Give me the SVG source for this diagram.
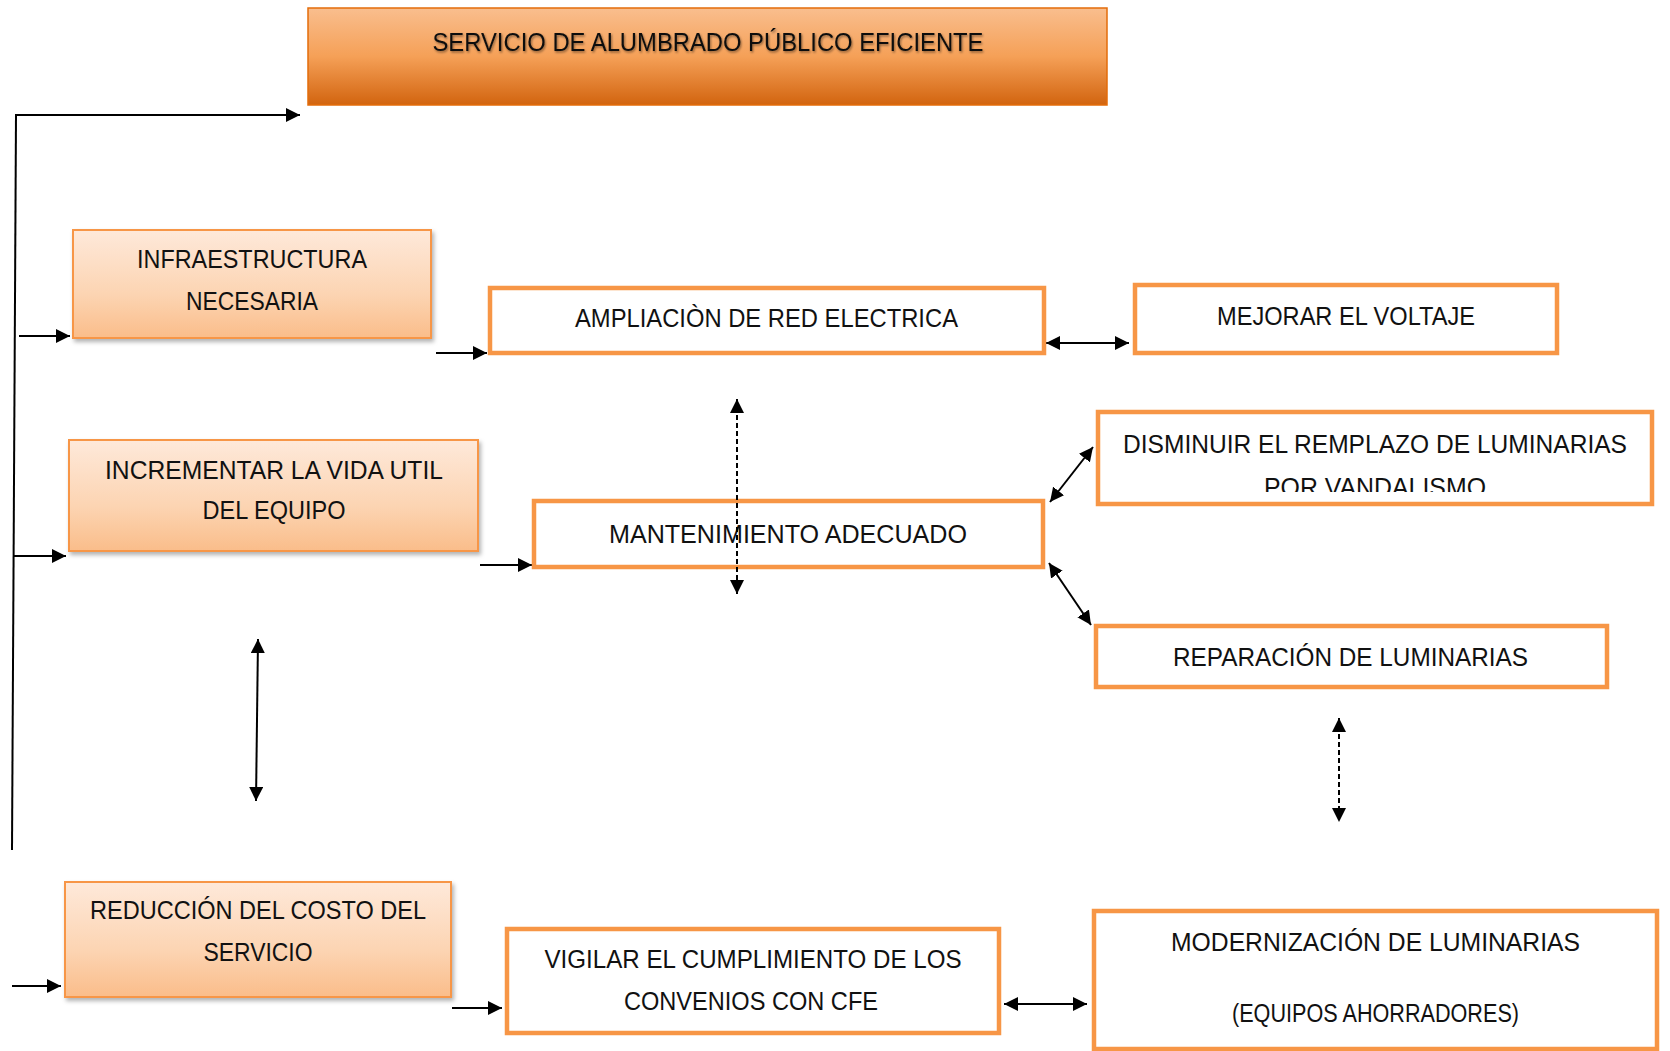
<svg xmlns="http://www.w3.org/2000/svg" width="1670" height="1051" viewBox="0 0 1670 1051">
<style>
.t{font-family:"Liberation Sans",Arial,sans-serif;font-size:26px;fill:#111;text-anchor:middle}
.wb{fill:#fff;stroke:#F79646;stroke-width:4.5}
.gb{fill:url(#peach);stroke:#F79646;stroke-width:2;filter:url(#sh)}
.c{stroke:#000;stroke-width:2;fill:none}
.d{stroke:#000;stroke-width:2;fill:none;stroke-dasharray:5 3}
.a1{marker-end:url(#ah)}
.a2{marker-start:url(#ah);marker-end:url(#ah)}
</style>
<defs>
<linearGradient id="peach" x1="0" y1="0" x2="0" y2="1">
<stop offset="0" stop-color="#FEE9DA"/>
<stop offset="0.6" stop-color="#FCD4B2"/>
<stop offset="1" stop-color="#FABD8A"/>
</linearGradient>
<linearGradient id="title" x1="0" y1="0" x2="0" y2="1">
<stop offset="0" stop-color="#F9BE8E"/>
<stop offset="0.5" stop-color="#F5A057"/>
<stop offset="1" stop-color="#D2640F"/>
</linearGradient>
<filter id="sh" x="-5%" y="-5%" width="115%" height="125%">
<feDropShadow dx="2" dy="3" stdDeviation="2" flood-color="#000" flood-opacity="0.3"/>
</filter>
<filter id="ts" x="-5%" y="-30%" width="110%" height="160%">
<feDropShadow dx="1" dy="1.5" stdDeviation="1" flood-color="#000" flood-opacity="0.45"/>
</filter>
<marker id="ah" markerUnits="userSpaceOnUse" markerWidth="14" markerHeight="14" refX="14" refY="7" orient="auto-start-reverse" viewBox="0 0 14 14">
<path d="M0,0 L14,7 L0,14 z" fill="#000"/>
</marker>
<clipPath id="clipDis"><rect x="1098" y="412" width="554" height="80"/></clipPath>
</defs>

<g id="connectors">
<line class="c" x1="16" y1="115" x2="12" y2="850"/>
<line class="c a1" x1="15" y1="115" x2="300" y2="115"/>
<line class="c a1" x1="19" y1="336" x2="70" y2="336"/>
<line class="c a1" x1="14" y1="556" x2="66" y2="556"/>
<line class="c a1" x1="12" y1="986" x2="61" y2="986"/>
<line class="c a1" x1="436" y1="353" x2="487" y2="353"/>
<line class="c a1" x1="480" y1="565" x2="532" y2="565"/>
<line class="c a1" x1="452" y1="1008" x2="502" y2="1008"/>
<line class="c a2" x1="1046" y1="343" x2="1129" y2="343"/>
<line class="c a2" x1="1050" y1="502" x2="1093" y2="447"/>
<line class="c a2" x1="1049" y1="563" x2="1091" y2="625"/>
<line class="c a2" x1="258" y1="639" x2="256" y2="801"/>
<line class="c a2" x1="1004" y1="1004" x2="1087" y2="1004"/>
</g>

<g id="title">
<rect x="308" y="8" width="799" height="97" fill="url(#title)" stroke="#E36C0A" stroke-width="1.5"/>
<text class="t" x="708" y="50.5" textLength="551" lengthAdjust="spacingAndGlyphs" filter="url(#ts)">SERVICIO DE ALUMBRADO PÚBLICO EFICIENTE</text>
</g>

<g id="infraestructura">
<rect class="gb" x="73" y="230" width="358" height="108"/>
<text class="t" x="252" y="268" textLength="230" lengthAdjust="spacingAndGlyphs">INFRAESTRUCTURA</text>
<text class="t" x="252" y="310" textLength="132" lengthAdjust="spacingAndGlyphs">NECESARIA</text>
</g>

<g id="incrementar">
<rect class="gb" x="69" y="440" width="409" height="111"/>
<text class="t" x="274" y="479" textLength="338" lengthAdjust="spacingAndGlyphs">INCREMENTAR LA VIDA UTIL</text>
<text class="t" x="274" y="519" textLength="143" lengthAdjust="spacingAndGlyphs">DEL EQUIPO</text>
</g>

<g id="reduccion">
<rect class="gb" x="65" y="882" width="386" height="115"/>
<text class="t" x="258" y="919" textLength="336" lengthAdjust="spacingAndGlyphs">REDUCCIÓN DEL COSTO DEL</text>
<text class="t" x="258" y="961" textLength="109" lengthAdjust="spacingAndGlyphs">SERVICIO</text>
</g>

<g id="ampliacion">
<rect class="wb" x="490" y="288" width="554" height="65"/>
<text class="t" x="766.5" y="327" textLength="383" lengthAdjust="spacingAndGlyphs">AMPLIACIÒN DE RED ELECTRICA</text>
</g>

<g id="mejorar">
<rect class="wb" x="1135" y="285" width="422" height="68"/>
<text class="t" x="1346" y="325" textLength="258" lengthAdjust="spacingAndGlyphs">MEJORAR EL VOLTAJE</text>
</g>

<g id="mantenimiento">
<rect class="wb" x="534" y="501" width="509" height="66"/>
<text class="t" x="788" y="542.5" textLength="358" lengthAdjust="spacingAndGlyphs">MANTENIMIENTO ADECUADO</text>
</g>

<g id="dashed-connector">
<line class="d a2" x1="737" y1="399" x2="737" y2="594"/>
<line class="d a2" x1="1339" y1="718" x2="1339" y2="822"/>
</g>

<g id="disminuir">
<rect class="wb" x="1098" y="412" width="554" height="92"/>
<text class="t" x="1375" y="452.5" textLength="504" lengthAdjust="spacingAndGlyphs">DISMINUIR EL REMPLAZO DE LUMINARIAS</text>
<text class="t" x="1375" y="495.5" textLength="222" lengthAdjust="spacingAndGlyphs" clip-path="url(#clipDis)">POR VANDALISMO</text>
</g>

<g id="reparacion">
<rect class="wb" x="1096" y="626" width="511" height="61"/>
<text class="t" x="1350.5" y="666" textLength="355" lengthAdjust="spacingAndGlyphs">REPARACIÓN DE LUMINARIAS</text>
</g>

<g id="vigilar">
<rect class="wb" x="507" y="929" width="492" height="104"/>
<text class="t" x="753" y="968" textLength="417" lengthAdjust="spacingAndGlyphs">VIGILAR EL CUMPLIMIENTO DE LOS</text>
<text class="t" x="751" y="1010" textLength="254" lengthAdjust="spacingAndGlyphs">CONVENIOS CON CFE</text>
</g>

<g id="modernizacion">
<rect class="wb" x="1094" y="911" width="563" height="138"/>
<text class="t" x="1375.5" y="950.5" textLength="409" lengthAdjust="spacingAndGlyphs">MODERNIZACIÓN DE LUMINARIAS</text>
<text class="t" x="1375.5" y="1021.5" textLength="287" lengthAdjust="spacingAndGlyphs">(EQUIPOS AHORRADORES)</text>
</g>
</svg>
